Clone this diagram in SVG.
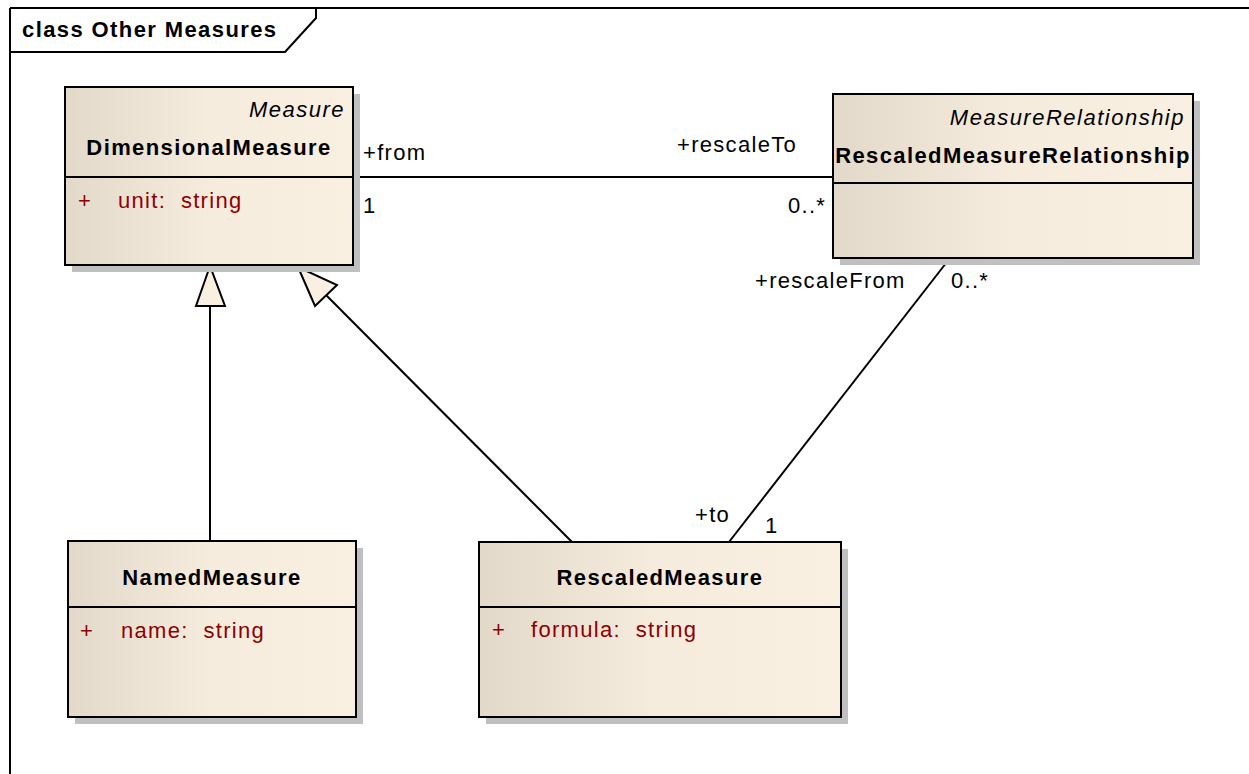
<svg xmlns="http://www.w3.org/2000/svg" width="1249" height="774" viewBox="0 0 1249 774">
<style>
.box{stroke:#000;stroke-width:2;fill:url(#g)}
.sh{fill:#c0c0c0}
.dv{stroke:#000;stroke-width:2}
.t{font-family:"Liberation Sans",Arial,sans-serif;font-size:22px;letter-spacing:1.3px;fill:#000}
.b{font-weight:bold;letter-spacing:1.4px}
.i{font-style:italic;letter-spacing:1.5px}
.a{fill:#8f0000}
.c{text-anchor:middle}
.e{text-anchor:end}
.ln{stroke:#000;stroke-width:2;fill:none}
.tri{stroke:#000;stroke-width:2;fill:#faf0e2;stroke-linejoin:miter}
</style>
<defs>
<linearGradient id="g" x1="0" y1="0" x2="1" y2="0">
<stop offset="0" stop-color="#e3d9ca"/>
<stop offset="0.5" stop-color="#f6ecde"/>
<stop offset="1" stop-color="#faf0e2"/>
</linearGradient>
</defs>
<rect width="1249" height="774" fill="#fff"/>
<g id="frame">
<path class="ln" d="M10,8 H1252 M10,8 V780 M316,8 V18 L285,52 H10"/>
<text class="t b" x="22" y="37">class Other Measures</text>
</g>
<g id="connectors">
<line class="ln" x1="353" y1="177" x2="833" y2="177"/>
<line class="ln" x1="950" y1="258" x2="729" y2="542"/>
<line class="ln" x1="210" y1="306" x2="210" y2="541"/>
<polygon class="tri" points="210,266 196,306 225,306"/>
<line class="ln" x1="326" y1="295" x2="572" y2="542"/>
<polygon class="tri" points="298,267 315,306 337,285"/>
<text class="t" x="363" y="160">+from</text>
<text class="t" x="363" y="213">1</text>
<text class="t" x="677" y="152">+rescaleTo</text>
<text class="t" x="788" y="213">0..*</text>
<text class="t" x="755" y="288">+rescaleFrom</text>
<text class="t" x="951" y="288">0..*</text>
<text class="t" x="695" y="522">+to</text>
<text class="t" x="765" y="533">1</text>
</g>
<g id="DimensionalMeasure">
<rect class="sh" x="72" y="94" width="288" height="178"/>
<rect class="box" x="65" y="87" width="288" height="178"/>
<line class="dv" x1="65" y1="177" x2="353" y2="177"/>
<text class="t i e" x="345" y="117">Measure</text>
<text class="t b c" x="209" y="155">DimensionalMeasure</text>
<text class="t a" x="78" y="208">+</text>
<text class="t a" x="118" y="208" xml:space="preserve">unit:  string</text>
</g>
<g id="RescaledMeasureRelationship">
<rect class="sh" x="840" y="101" width="360" height="164"/>
<rect class="box" x="833" y="94" width="360" height="164"/>
<line class="dv" x1="833" y1="183" x2="1193" y2="183"/>
<text class="t i e" x="1185" y="125">MeasureRelationship</text>
<text class="t b c" x="1013" y="163">RescaledMeasureRelationship</text>
</g>
<g id="NamedMeasure">
<rect class="sh" x="75" y="548" width="288" height="176"/>
<rect class="box" x="68" y="541" width="288" height="176"/>
<line class="dv" x1="68" y1="607" x2="356" y2="607"/>
<text class="t b c" x="212" y="585">NamedMeasure</text>
<text class="t a" x="80" y="638">+</text>
<text class="t a" x="121" y="638" xml:space="preserve">name:  string</text>
</g>
<g id="RescaledMeasure">
<rect class="sh" x="486" y="549" width="362" height="175"/>
<rect class="box" x="479" y="542" width="362" height="175"/>
<line class="dv" x1="479" y1="607" x2="841" y2="607"/>
<text class="t b c" x="660" y="585">RescaledMeasure</text>
<text class="t a" x="492" y="637">+</text>
<text class="t a" x="531" y="637" xml:space="preserve">formula:  string</text>
</g>
</svg>
